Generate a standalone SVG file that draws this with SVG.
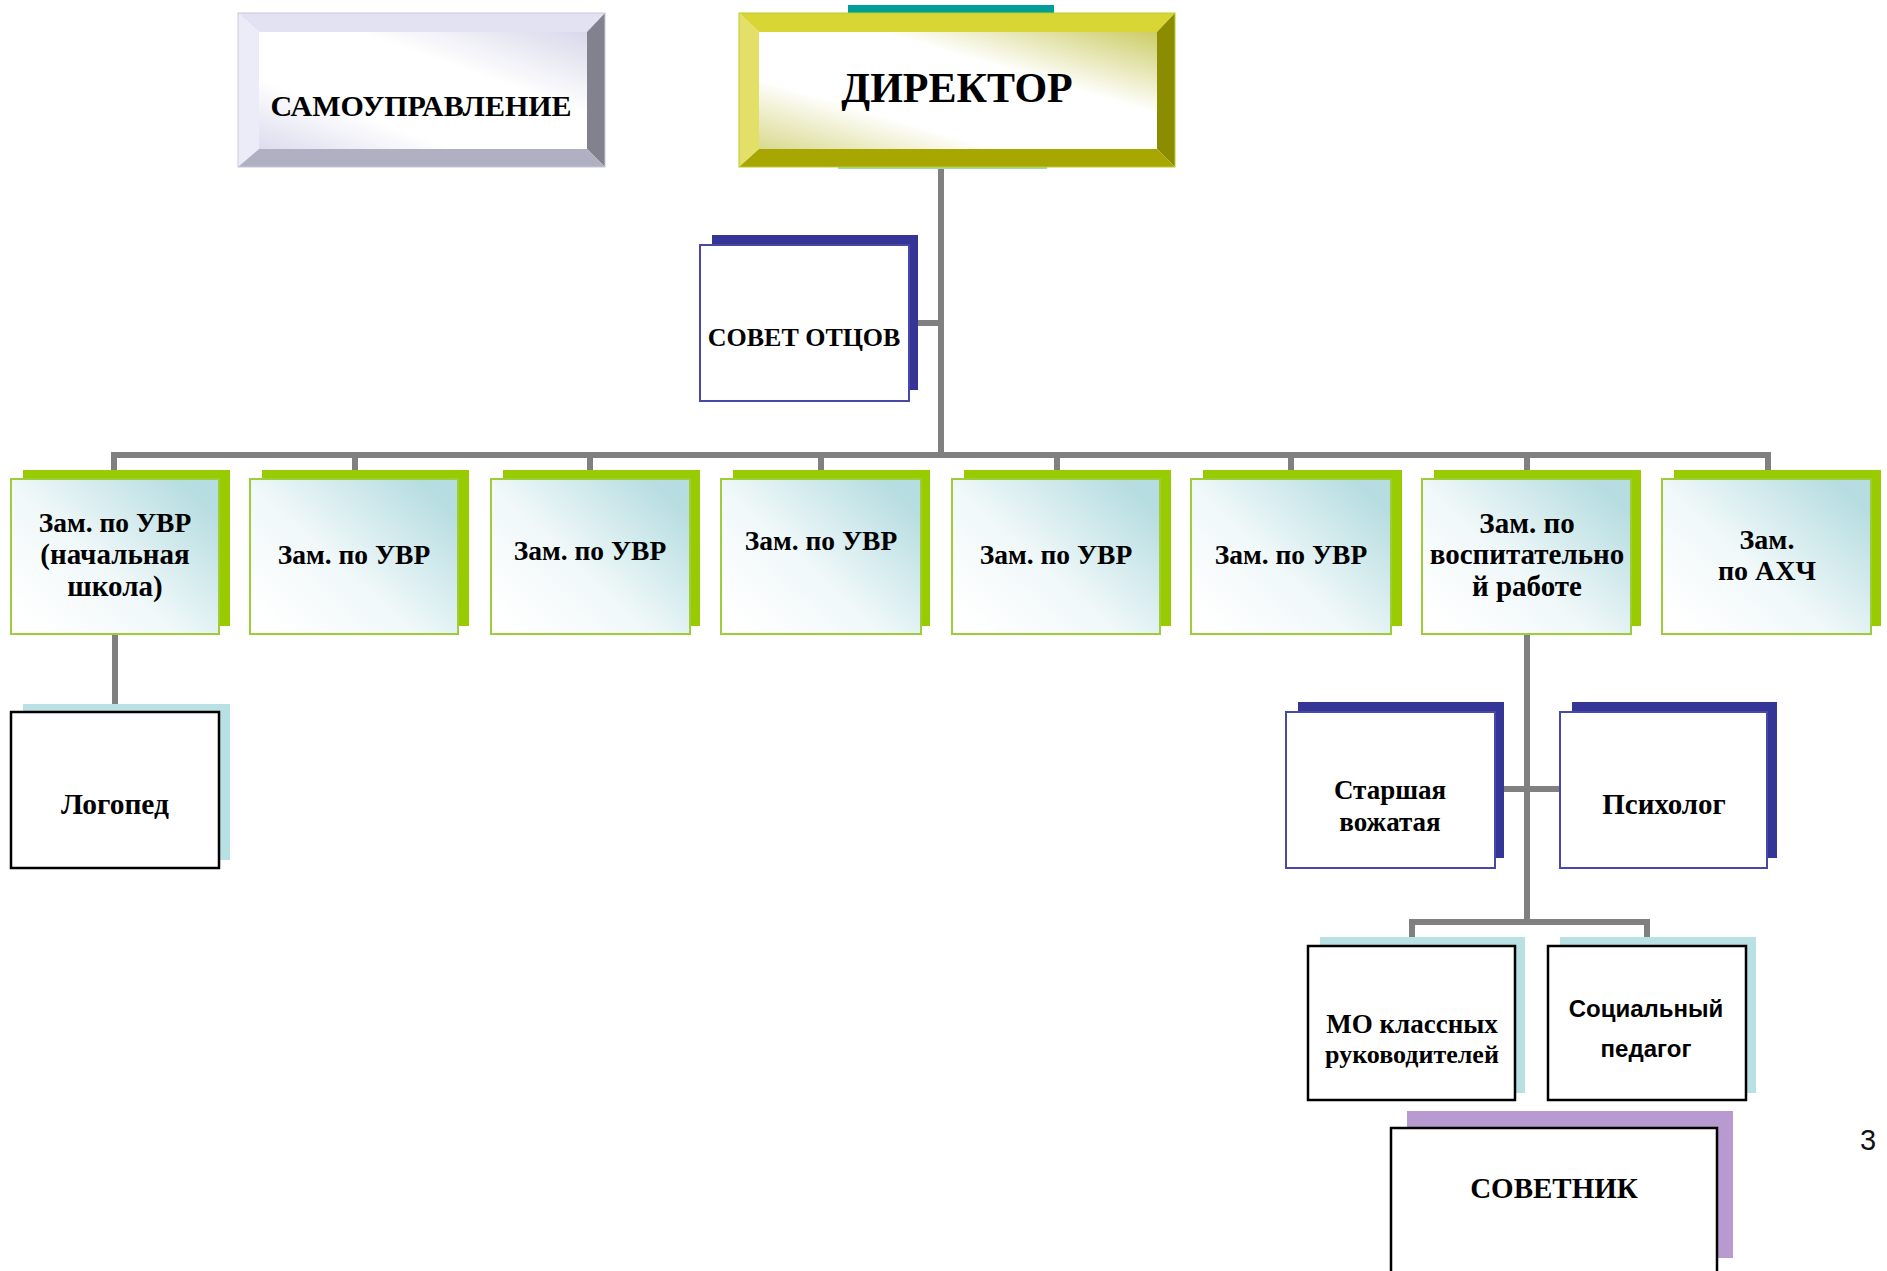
<svg xmlns="http://www.w3.org/2000/svg" width="1887" height="1271" viewBox="0 0 1887 1271">
<style>
.t{font-family:"Liberation Serif","Times New Roman",serif;font-weight:bold;fill:#000;text-anchor:middle}
.s{font-family:"Liberation Sans",Arial,sans-serif;font-weight:bold;fill:#000;text-anchor:middle}
.zs{fill:#99cc00}
.zf{fill:url(#zg);stroke:#9fcd3a;stroke-width:2}
.ns{fill:#353598}
.nf{fill:#fff;stroke:#4848a8;stroke-width:2}
.ts{fill:#b9e0e3}
.bf{fill:#fff;stroke:#000;stroke-width:2.5}
.c{fill:none;stroke:#808080;stroke-width:6}
</style>
<defs>
<linearGradient id="zg" x1="0" y1="0.85" x2="0.9" y2="0.1">
<stop offset="0" stop-color="#ffffff"/>
<stop offset="0.45" stop-color="#f0f8f9"/>
<stop offset="1" stop-color="#b6dde1"/>
</linearGradient>
<linearGradient id="dg" x1="0" y1="1" x2="1" y2="0">
<stop offset="0" stop-color="#d9d98e"/>
<stop offset="0.3" stop-color="#ffffff"/>
<stop offset="0.65" stop-color="#ffffff"/>
<stop offset="1" stop-color="#cccc66"/>
</linearGradient>
<linearGradient id="sg" x1="0" y1="1" x2="1" y2="0">
<stop offset="0" stop-color="#dcdcee"/>
<stop offset="0.3" stop-color="#ffffff"/>
<stop offset="0.65" stop-color="#ffffff"/>
<stop offset="1" stop-color="#d8d8ea"/>
</linearGradient>
</defs>
<rect width="1887" height="1271" fill="#fff"/>

<g id="connectors">
<path class="c" d="M941 167 V455"/>
<path class="c" d="M918 323 H941"/>
<path class="c" d="M114 472 V455 H1768 V472"/>
<path class="c" d="M355 455 V472 M590 455 V472 M821 455 V472 M1057 455 V472 M1291 455 V472 M1527 455 V472"/>
<path class="c" d="M115 634 V706"/>
<path class="c" d="M1527 634 V922"/>
<path class="c" d="M1504 789 H1560"/>
<path class="c" d="M1412 939 V922 H1647 V939"/>
</g>

<g id="samoupravlenie">
<rect x="259" y="32" width="328" height="117" fill="url(#sg)"/>
<polygon points="238,13 605,13 587,32 259,32" fill="#e2e2f2"/>
<polygon points="238,13 259,32 259,149 238,167" fill="#ececf8"/>
<polygon points="605,13 605,167 587,149 587,32" fill="#82828f"/>
<polygon points="238,167 259,149 587,149 605,167" fill="#b0b0c2"/>
<rect x="238" y="13" width="367" height="154" fill="none" stroke="#c8c8dc" stroke-width="1"/>
<text class="t" x="421" y="116" font-size="30">САМОУПРАВЛЕНИЕ</text>
</g>

<g id="director">
<rect x="848" y="5" width="206" height="9" fill="#009e96"/>
<rect x="838" y="166" width="209" height="3" fill="#9fd8a8"/>
<rect x="759" y="32" width="398" height="117" fill="url(#dg)"/>
<polygon points="739,13 1175,13 1157,32 759,32" fill="#d8d634"/>
<polygon points="739,13 759,32 759,149 739,167" fill="#e2e068"/>
<polygon points="1175,13 1175,167 1157,149 1157,32" fill="#8c8c00"/>
<polygon points="739,167 759,149 1157,149 1175,167" fill="#a8a600"/>
<rect x="739" y="13" width="436" height="154" fill="none" stroke="#b8cc30" stroke-width="1"/>
<text class="t" x="957" y="102" font-size="42">ДИРЕКТОР</text>
</g>

<g id="sovet-otcov">
<rect class="ns" x="712" y="235" width="206" height="155"/>
<rect class="nf" x="700" y="245" width="209" height="156"/>
<text class="t" x="804" y="346" font-size="26">СОВЕТ ОТЦОВ</text>
</g>

<g id="zam1">
<rect class="zs" x="23" y="470" width="207" height="156"/>
<rect class="zf" x="11" y="479" width="208" height="155"/>
<text class="t" x="115" y="532" font-size="27.5">Зам. по УВР</text>
<text class="t" x="115" y="564" font-size="29">(начальная</text>
<text class="t" x="115" y="596" font-size="29">школа)</text>
</g>
<g id="zam2">
<rect class="zs" x="262" y="470" width="207" height="156"/>
<rect class="zf" x="250" y="479" width="208" height="155"/>
<text class="t" x="354" y="564" font-size="27.5">Зам. по УВР</text>
</g>
<g id="zam3">
<rect class="zs" x="503" y="470" width="197" height="156"/>
<rect class="zf" x="491" y="479" width="199" height="155"/>
<text class="t" x="590" y="560" font-size="27.5">Зам. по УВР</text>
</g>
<g id="zam4">
<rect class="zs" x="733" y="470" width="197" height="156"/>
<rect class="zf" x="721" y="479" width="200" height="155"/>
<text class="t" x="821" y="550" font-size="27.5">Зам. по УВР</text>
</g>
<g id="zam5">
<rect class="zs" x="964" y="470" width="207" height="156"/>
<rect class="zf" x="952" y="479" width="208" height="155"/>
<text class="t" x="1056" y="564" font-size="27.5">Зам. по УВР</text>
</g>
<g id="zam6">
<rect class="zs" x="1203" y="470" width="199" height="156"/>
<rect class="zf" x="1191" y="479" width="200" height="155"/>
<text class="t" x="1291" y="564" font-size="27.5">Зам. по УВР</text>
</g>
<g id="zam7">
<rect class="zs" x="1434" y="470" width="207" height="156"/>
<rect class="zf" x="1422" y="479" width="209" height="155"/>
<text class="t" x="1527" y="533" font-size="29">Зам. по</text>
<text class="t" x="1527" y="564" font-size="29">воспитательно</text>
<text class="t" x="1527" y="596" font-size="29">й работе</text>
</g>
<g id="zam8">
<rect class="zs" x="1674" y="470" width="207" height="156"/>
<rect class="zf" x="1662" y="479" width="209" height="155"/>
<text class="t" x="1767" y="549" font-size="28">Зам.</text>
<text class="t" x="1767" y="580" font-size="28">по АХЧ</text>
</g>

<g id="logoped">
<rect class="ts" x="23" y="704" width="207" height="156"/>
<rect class="bf" x="11" y="712" width="208" height="156"/>
<text class="t" x="115" y="814" font-size="29.5">Логопед</text>
</g>

<g id="vozhataya">
<rect class="ns" x="1298" y="702" width="206" height="156"/>
<rect class="nf" x="1286" y="712" width="209" height="156"/>
<text class="t" x="1390" y="799" font-size="27">Старшая</text>
<text class="t" x="1390" y="831" font-size="27">вожатая</text>
</g>

<g id="psiholog">
<rect class="ns" x="1572" y="702" width="205" height="156"/>
<rect class="nf" x="1560" y="712" width="207" height="156"/>
<text class="t" x="1664" y="814" font-size="29">Психолог</text>
</g>

<g id="mo">
<rect class="ts" x="1320" y="937" width="205" height="156"/>
<rect class="bf" x="1308" y="946" width="207" height="154"/>
<text class="t" x="1412" y="1033" font-size="27">МО классных</text>
<text class="t" x="1412" y="1063" font-size="26">руководителей</text>
</g>

<g id="socped">
<rect class="ts" x="1560" y="937" width="196" height="156"/>
<rect class="bf" x="1548" y="946" width="198" height="154"/>
<text class="s" x="1646" y="1017" font-size="24">Социальный</text>
<text class="s" x="1646" y="1057" font-size="24">педагог</text>
</g>

<g id="sovetnik">
<rect x="1407" y="1111" width="326" height="147" fill="#b899d0"/>
<rect class="bf" x="1391" y="1128" width="326" height="160"/>
<text class="t" x="1554" y="1198" font-size="29">СОВЕТНИК</text>
</g>

<text x="1868" y="1150" font-family="Liberation Sans,Arial,sans-serif" font-size="29" text-anchor="middle" fill="#111">3</text>
</svg>
